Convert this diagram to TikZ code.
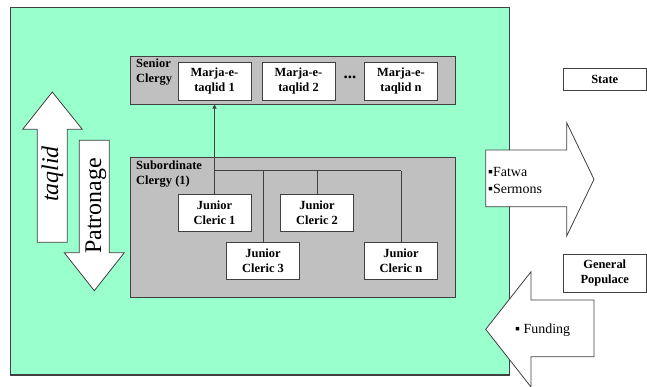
\documentclass[tikz,border=0pt]{standalone}
\usepackage{fontspec}
\setmainfont{Liberation Serif}
\usetikzlibrary{arrows.meta}
\definecolor{mint}{HTML}{99FFCC}
\definecolor{panelgray}{HTML}{C0C0C0}
\definecolor{edgecol}{HTML}{404040}
\begin{document}
\begin{tikzpicture}[x=1bp,y=-1bp,
  cbox/.style={draw=edgecol, line width=1bp, fill=white, minimum width=73bp, minimum height=37bp,
    align=center, inner sep=0pt, font=\fontsize{12.5}{15}\selectfont\bfseries},
  panel/.style={draw=edgecol, line width=1bp, fill=panelgray, inner sep=0pt, minimum width=325bp},
  plabel/.style={anchor=north west, align=left, inner sep=0pt, font=\fontsize{12.5}{15}\selectfont\bfseries},
  bigarrow/.style={draw=edgecol, line width=0.8bp, fill=white, line join=miter},
  conn/.style={draw=edgecol, line width=1bp},
  arrtext/.style={anchor=west, align=left, inner sep=0pt, font=\fontsize{14}{17}\selectfont},
  sidebox/.style={draw=edgecol, line width=1bp, fill=white, inner sep=0pt, align=center,
    minimum width=83.5bp, font=\fontsize{12.5}{15}\selectfont\bfseries}]
\useasboundingbox (0,0) rectangle (647,386);
\fill[white] (0,0) rectangle (647,386);
% green area
\node[draw=edgecol, line width=1.2bp, fill=mint, minimum width=499bp, minimum height=367.5bp, inner sep=0pt] (area) at (260,191.25) {};
% panels
\node[panel, minimum height=48bp] (senior) at (292.5,80) {};
\node[panel, minimum height=140bp] (sub) at (292.5,227) {};
\node[plabel] (seniorlbl) at (136,59) {Senior\\Clergy};
\node[plabel] (sublbl) at (136,160.5) {Subordinate\\Clergy (1)};
% marja boxes
\node[cbox, minimum height=38bp] (m1) at (214.5,81) {Marja-e-\\taqlid 1};
\node[cbox, minimum height=38bp] (m2) at (298.5,81) {Marja-e-\\taqlid 2};
\node[font=\fontsize{17}{17}\selectfont\bfseries, inner sep=0pt] (dots) at (350,77) {...};
\node[cbox, minimum height=38bp] (mn) at (401,81) {Marja-e-\\taqlid n};
% junior clerics
\node[cbox] (jc1) at (214.5,212.5) {Junior\\Cleric 1};
\node[cbox] (jc2) at (317,212.5) {Junior\\Cleric 2};
\node[cbox] (jc3) at (263,260.5) {Junior\\Cleric 3};
\node[cbox] (jcn) at (401,260.5) {Junior\\Cleric n};
% connectors
\coordinate (busl) at (214.5,170.7);
\coordinate (busr) at (401,170.7);
\draw[conn, -{Triangle[length=4bp,width=4bp]}] (jc1.north) -- (jc1.north |- senior.south);
\draw[conn] (busl) -- (busr);
\draw[conn] (busl -| jc3.north) -- (jc3.north);
\draw[conn] (busl -| jc2.north) -- (jc2.north);
\draw[conn] (busr) -- (jcn.north);
% left arrows
\draw[bigarrow] (37.3,242.3) -- (37.3,129.3) -- (22.7,129.3) -- (52.3,92) -- (82.3,129.3) -- (67.3,129.3) -- (67.3,242.3) -- cycle;
\draw[bigarrow] (79.3,140.3) -- (109.3,140.3) -- (109.3,252.7) -- (124.3,252.7) -- (94.3,290.7) -- (64.3,252.7) -- (79.3,252.7) -- cycle;
\node[rotate=90, inner sep=0pt, font=\fontsize{24}{24}\selectfont\itshape] (taqlid) at (52.3,174) {taqlid};
\node[rotate=90, inner sep=0pt, font=\fontsize{24}{24}\selectfont] (patronage) at (96,206) {Patronage};
% right arrows
\draw[bigarrow] (485.7,150) -- (566.7,150) -- (566.7,122.7) -- (594,179.3) -- (566.7,236) -- (566.7,206.7) -- (485.7,206.7) -- cycle;
\draw[bigarrow] (594,300) -- (531,300) -- (531,271.7) -- (485.7,329.3) -- (531,387) -- (531,356.7) -- (594,356.7) -- cycle;
\node[arrtext] (fatwa) at (488,180.5) {▪Fatwa\\▪Sermons};
\node[arrtext] (funding) at (515,330) {▪ Funding};
% side boxes
\node[sidebox, minimum height=22bp] (state) at (604.75,79) {State};
\node[sidebox, minimum height=38bp] (populace) at (604.75,273) {General\\Populace};
\end{tikzpicture}
\end{document}
